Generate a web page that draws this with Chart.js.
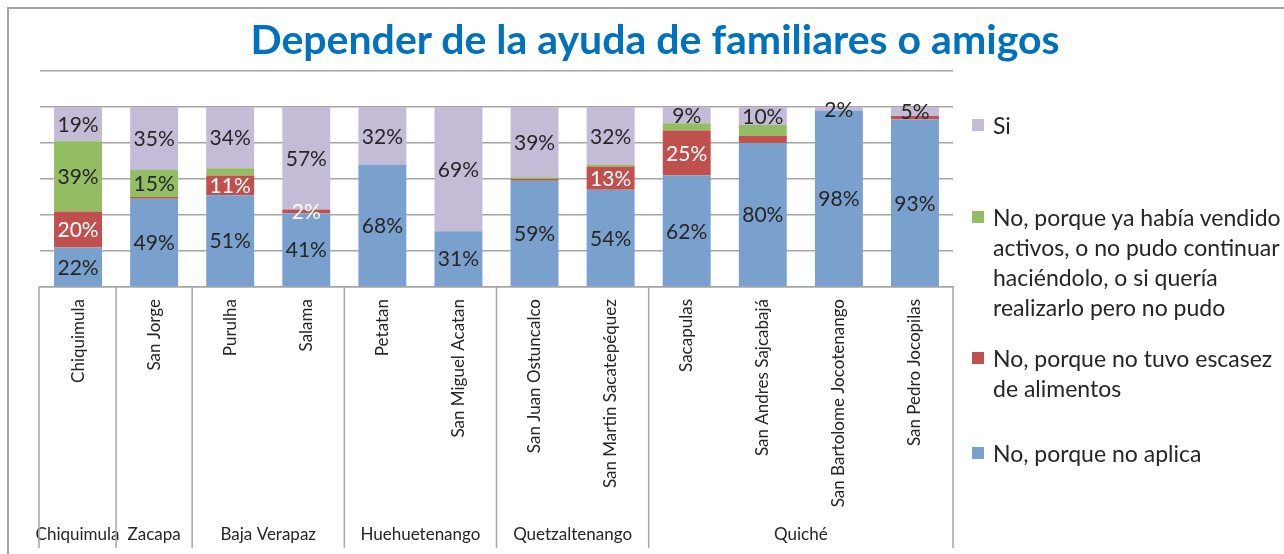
<!DOCTYPE html>
<html>
<head>
<meta charset="utf-8">
<script src="https://cdn.jsdelivr.net/npm/chart.js@4/dist/chart.umd.min.js"></script>
<style>
    html, body { margin: 0; padding: 0; background: #fff; overflow: hidden; }
    #wrap { position: relative; width: 1284px; height: 554px; overflow: hidden; }
    #frame { position: absolute; left: 7px; top: 7px; width: 1400px; height: 700px; border: 2px solid #a3a3a3; }
    #chart { position: absolute; left: 0; top: 0; }
    #title { position: absolute; left: 0; top: 18px; width: 1310px; text-align: center;
             font: 700 41px Lato, sans-serif; line-height: 41px; color: #0071bd; }
    .legend-item { position: absolute; left: 972px; width: 312px; font: 23px Lato, sans-serif;
                   line-height: 30px; color: #262626; }
    .legend-item .box { position: absolute; left: 0; top: 9px; width: 12px; height: 12px; }
    .legend-item .txt { margin-left: 21px; }
</style>
</head>
<body>
<div id="wrap">
    <div id="frame"></div>
    <canvas id="chart" width="1284" height="554"></canvas>
    <div id="title">Depender de la ayuda de familiares o amigos</div>
    <div id="legend"></div>
</div>
<script>
const categories = ['Chiquimula', 'San Jorge', 'Purulha', 'Salama', 'Petatan', 'San Miguel Acatan',
    'San Juan Ostuncalco', 'San Martin Sacatepéquez', 'Sacapulas', 'San Andres Sajcabajá',
    'San Bartolome Jocotenango', 'San Pedro Jocopilas'];
const groups = ['Chiquimula', 'Zacapa', 'Baja Verapaz', 'Huehuetenango', 'Quetzaltenango', 'Quiché'];
const groupSizes = [1, 1, 2, 2, 2, 4];

const noAplica = [22, 49, 51, 41, 68, 31, 59, 54, 62, 80, 98, 93];
const noEscasez = [20, 1, 11, 2, 0, 0, 1, 13, 25, 4, 0, 2];
const noVendido = [39, 15, 4, 0, 0, 0, 1, 1, 4, 6, 0, 0];
const si = [19, 35, 34, 57, 32, 69, 39, 32, 9, 10, 2, 5];

// segments whose percentage is not printed in the original
const hideEscasez = [1, 6, 9, 11];
const hideVendido = [2, 6, 7, 8, 9];

const yTicks = [0, 20, 40, 60, 80, 100, 120];

const seriesNames = [
    'No, porque no aplica',
    'No, porque no tuvo escasez de alimentos',
    'No, porque ya había vendido activos, o no pudo continuar haciéndolo, o si quería realizarlo pero no pudo',
    'Si'
];

const FONT = 'Lato, sans-serif';
const TEXT = '#262626';

const datasets = [
    { label: seriesNames[0], data: noAplica, backgroundColor: '#7aa1cd', labelColor: TEXT, hide: [] },
    { label: seriesNames[1], data: noEscasez, backgroundColor: '#c0504d', labelColor: '#ffffff', hide: hideEscasez },
    { label: seriesNames[2], data: noVendido, backgroundColor: '#93bd62', labelColor: TEXT, hide: hideVendido },
    { label: seriesNames[3], data: si, backgroundColor: '#c4bcd6', labelColor: TEXT, hide: [] }
];

const segmentLabels = {
    id: 'segmentLabels',
    afterDatasetsDraw(chart) {
        const ctx = chart.ctx;
        ctx.save();
        ctx.font = '21px ' + FONT;
        ctx.textAlign = 'center';
        ctx.textBaseline = 'middle';
        chart.data.datasets.forEach((ds, i) => {
            chart.getDatasetMeta(i).data.forEach((bar, j) => {
                const v = ds.data[j];
                if (!v || ds.hide.includes(j)) return;
                ctx.fillStyle = ds.labelColor;
                ctx.fillText(v + '%', bar.x, (bar.y + bar.base) / 2 + 1);
            });
        });
        ctx.restore();
    }
};

const groupAxis = {
    id: 'groupAxis',
    afterDraw(chart) {
        const ctx = chart.ctx;
        const xs = chart.scales.x;
        const area = chart.chartArea;
        const top = area.bottom;
        const bottom = 548;
        const last = categories.length - 1;
        ctx.save();
        ctx.strokeStyle = '#a6a6a6';
        ctx.lineWidth = 1.5;
        ctx.font = '17px ' + FONT;
        ctx.fillStyle = TEXT;
        ctx.textAlign = 'center';
        ctx.textBaseline = 'middle';
        let idx = 0;
        let left = area.left - 1;
        ctx.beginPath();
        ctx.moveTo(left, top);
        ctx.lineTo(left, bottom);
        groups.forEach((g, k) => {
            const end = idx + groupSizes[k] - 1;
            const right = end === last ? area.right : (xs.getPixelForValue(end) + xs.getPixelForValue(end + 1)) / 2;
            ctx.moveTo(right, top);
            ctx.lineTo(right, bottom);
            ctx.fillText(g, (left + right) / 2, 535);
            left = right;
            idx = end + 1;
        });
        ctx.stroke();
        ctx.restore();
    }
};

new Chart(document.getElementById('chart'), {
    type: 'bar',
    data: { labels: categories, datasets: datasets },
    options: {
        responsive: false,
        animation: false,
        layout: { padding: { top: 71, left: 40, right: 331, bottom: 0 } },
        plugins: {
            legend: { display: false },
            title: { display: false },
            tooltip: { enabled: false }
        },
        datasets: { bar: { categoryPercentage: 1, barPercentage: 0.63 } },
        scales: {
            x: {
                stacked: true,
                grid: { display: false, drawTicks: false },
                border: { display: true, color: '#a6a6a6', width: 1.5 },
                ticks: {
                    autoSkip: false, minRotation: 90, maxRotation: 90, padding: 12,
                    color: TEXT, font: { family: FONT, size: 17 }
                },
                afterFit(scale) { scale.height = 267; }
            },
            y: {
                stacked: true,
                min: yTicks[0],
                max: yTicks[yTicks.length - 1],
                afterBuildTicks(scale) { scale.ticks = yTicks.map(v => ({ value: v })); },
                grid: { color: '#a6a6a6', lineWidth: 1.5, drawTicks: false },
                border: { display: false },
                ticks: { display: false }
            }
        }
    },
    plugins: [segmentLabels, groupAxis]
});

// legend, top item first as in the original
const legendTops = [110, 202, 343, 438];
const legend = document.getElementById('legend');
datasets.slice().reverse().forEach((ds, k) => {
    const item = document.createElement('div');
    item.className = 'legend-item';
    item.style.top = legendTops[k] + 'px';
    item.innerHTML = '<span class="box" style="background:' + ds.backgroundColor + '"></span>' +
        '<div class="txt">' + ds.label + '</div>';
    legend.appendChild(item);
});
</script>
</body>
</html>
